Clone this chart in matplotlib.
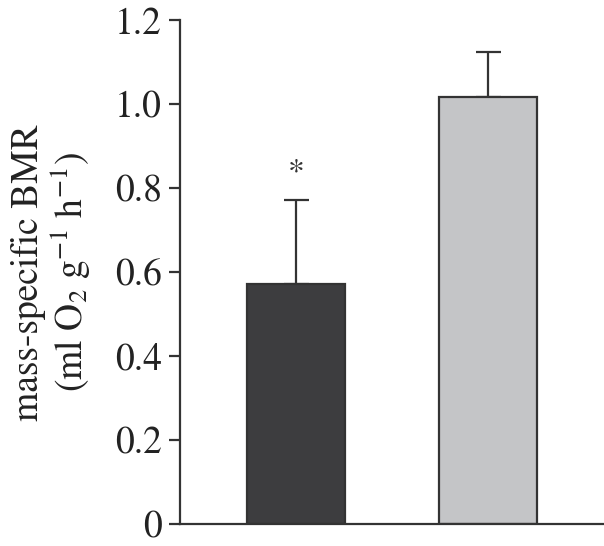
import matplotlib
matplotlib.use("Agg")
import matplotlib.pyplot as plt

plt.rcParams["font.family"] = ["STIXGeneral", "Liberation Serif", "DejaVu Serif"]
plt.rcParams["mathtext.fontset"] = "stix"

# data
groups = ["group A", "group B"]
bmr = [0.572, 1.017]
sem = [0.200, 0.108]
fills = ["#3d3d3f", "#c4c5c7"]
signif = ["*", ""]
yticks = [0, 0.2, 0.4, 0.6, 0.8, 1.0, 1.2]
ytick_labels = ["0", "0.2", "0.4", "0.6", "0.8", "1.0", "1.2"]

INK = "#333333"

fig = plt.figure(figsize=(6.04, 5.46), dpi=100)
ax = fig.add_axes([0.298, 0.040, 0.702, 0.923])

x = list(range(len(groups)))
ax.bar(x, bmr, width=0.51, color=fills, edgecolor=INK, linewidth=1.6, zorder=2)
ax.errorbar(x, bmr, yerr=[[0] * len(sem), sem], fmt="none", ecolor=INK,
            elinewidth=1.6, capsize=9, capthick=1.6, zorder=1)
for xi, m, e, s in zip(x, bmr, sem, signif):
    if s:
        ax.text(xi, m + e + 0.03, s, ha="center", va="bottom", fontsize=24, color=INK)

ax.set_xlim(-0.605, 1.605)
ax.set_ylim(0, 1.2)
ax.set_xticks([])
ax.set_yticks(yticks)
ax.set_yticklabels(ytick_labels)
ax.tick_params(axis="y", direction="out", length=8, width=1.6, color=INK,
               labelsize=27, pad=5, labelcolor="#222222")

for side in ("top", "right"):
    ax.spines[side].set_visible(False)
for side in ("left", "bottom"):
    ax.spines[side].set_color(INK)
    ax.spines[side].set_linewidth(1.6)

ax.set_ylabel("mass-specific BMR\n(ml O$_2$ g$^{-1}$ h$^{-1}$)", fontsize=27,
              color="#222222", linespacing=1.05, labelpad=16)

fig.savefig("out.png", dpi=100)
